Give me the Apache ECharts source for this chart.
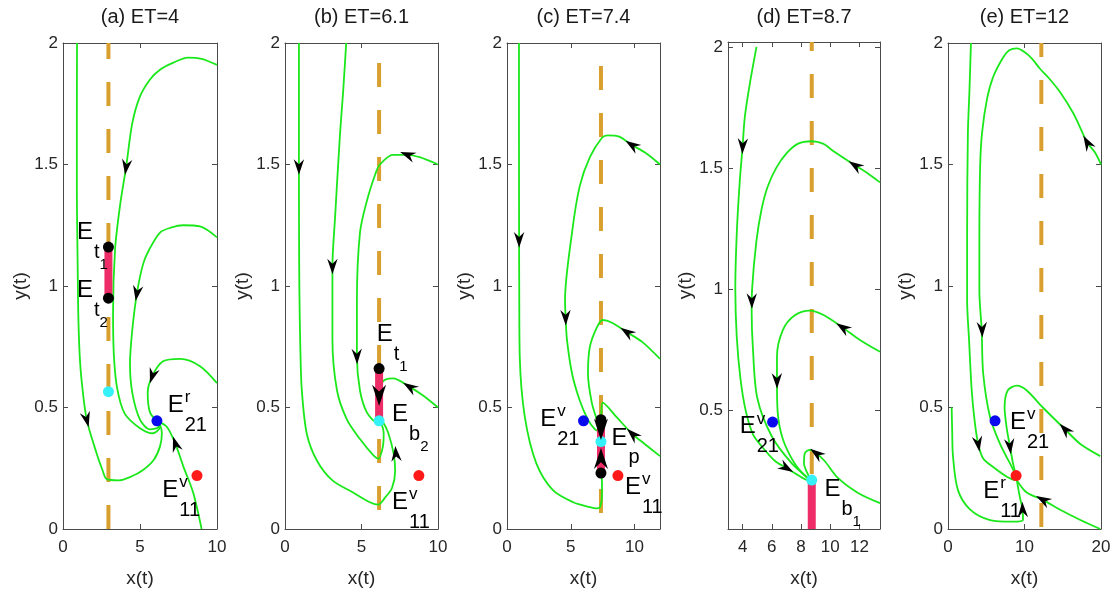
<!DOCTYPE html>
<html><head><meta charset="utf-8">
<script src="https://cdn.jsdelivr.net/npm/echarts@6/dist/echarts.min.js"></script>
<style>html,body{margin:0;padding:0;background:#fff}#c{width:1118px;height:599px}</style>
</head><body><div id="c"></div>
<script>
// ---------------- data ----------------
const panelTitles = ['(a) ET=4', '(b) ET=6.1', '(c) ET=7.4', '(d) ET=8.7', '(e) ET=12'];
const etValues = [2.95, 6.15, 7.37, 8.73, 12.2];
const xMin = [0, 0, 0, 3, 0];
const xMax = [10, 10, 12, 13.4, 20];
const yMin = [0, 0, 0, 0.008, 0];
const yMax = [2, 2, 2, 2.02, 2];
const xTicks = [[0,5,10],[0,5,10],[0,5,10],[4,6,8,10,12],[0,10,20]];
const yTicks = [[0,0.5,1,1.5,2],[0,0.5,1,1.5,2],[0,0.5,1,1.5,2],[0.5,1,1.5,2],[0,0.5,1,1.5,2]];

// trajectories (listed in flow direction)
const trajA = [
  [[0.91,2.0],[0.9,1.7],[0.9,1.4],[0.95,1.1],[0.99,0.89],[1.08,0.72],[1.21,0.61],[1.54,0.45],[2.19,0.31],[2.55,0.245],[2.84,0.205],[3.6,0.2],[4.4,0.215],[5.2,0.243],[5.9,0.285],[6.3,0.34],[6.42,0.394],[6.3,0.43],[6.1,0.445]],
  [[10,1.91],[9.0,1.935],[8.1,1.94],[7.2,1.92],[6.3,1.89],[5.65,1.85],[5.0,1.78],[4.5,1.67],[4.1,1.49],[3.7,1.33],[3.38,1.15],[3.25,0.89],[3.3,0.72],[3.5,0.585],[4.0,0.476],[5.0,0.415],[5.85,0.394],[6.3,0.42],[6.1,0.445]],
  [[10,1.2],[8.9,1.245],[7.8,1.25],[7.0,1.24],[6.3,1.22],[5.6,1.15],[5.2,1.09],[4.8,0.97],[4.5,0.82],[4.35,0.68],[4.5,0.56],[5.0,0.45],[5.65,0.41],[6.2,0.42],[6.1,0.445]],
  [[10,0.6],[8.9,0.67],[7.6,0.7],[6.5,0.69],[5.8,0.63],[5.5,0.56],[5.65,0.48],[6.1,0.445]],
  [[9.0,0.0],[8.45,0.15],[7.8,0.26],[7.3,0.35],[6.75,0.42],[6.1,0.445]]
];
const trajB = [
  [[0.91,2.0],[0.91,1.7],[0.91,1.49],[0.92,1.2],[0.94,0.98],[1.0,0.75],[1.1,0.57],[1.43,0.39],[2.1,0.28],[3.1,0.2],[4.45,0.15],[5.55,0.11],[6.1,0.1],[6.55,0.13],[7.0,0.17],[7.2,0.24],[7.1,0.31],[6.75,0.395],[6.4,0.44],[6.15,0.455]],
  [[4.0,2.0],[3.8,1.8],[3.6,1.63],[3.27,1.28],[3.1,1.08],[3.1,0.94],[3.1,0.78],[3.4,0.57],[4.05,0.45],[4.9,0.37],[5.75,0.305],[6.1,0.29],[6.4,0.34],[6.45,0.395],[6.15,0.455]],
  [[10,1.5],[8.8,1.53],[8.0,1.54],[7.05,1.54],[6.2,1.5],[5.9,1.46],[5.35,1.35],[4.9,1.22],[4.7,0.94],[4.7,0.78],[4.7,0.71],[4.9,0.57],[5.35,0.48],[6.0,0.44],[6.15,0.455]],
  [[10,0.5],[9.0,0.55],[8.15,0.585],[7.05,0.62],[6.55,0.615],[6.3,0.6]]
];
const trajC = [
  [[0.94,2.0],[0.94,1.6],[0.95,1.19],[0.96,0.98],[1.0,0.71],[1.4,0.46],[2.3,0.27],[3.6,0.16],[5.2,0.11],[6.5,0.09],[7.05,0.085],[7.3,0.09],[7.45,0.14],[7.45,0.19],[7.37,0.23]],
  [[12,1.5],[10.8,1.55],[9.8,1.58],[8.8,1.615],[7.9,1.62],[7.45,1.61],[6.5,1.53],[5.7,1.41],[5.1,1.22],[4.55,0.94],[4.6,0.87],[4.7,0.78],[5.1,0.64],[5.7,0.53],[6.35,0.45],[6.9,0.41],[7.3,0.4]],
  [[12,0.7],[10.6,0.77],[9.4,0.81],[8.2,0.85],[7.5,0.86],[7.05,0.83],[6.5,0.75],[6.35,0.64],[6.65,0.52],[7.05,0.45],[7.3,0.42]],
  [[12,0.3],[10.8,0.35],[9.85,0.39],[8.6,0.46],[7.5,0.52],[7.4,0.48],[7.37,0.42]]
];
const trajD = [
  [[4.95,2.0],[4.5,1.85],[4.15,1.71],[4.0,1.59],[3.8,1.44],[3.6,1.23],[3.5,1.0],[3.6,0.8],[3.85,0.63],[4.2,0.5],[4.7,0.4],[5.3,0.35],[6.2,0.29],[7.0,0.26],[7.8,0.23],[8.45,0.21],[8.73,0.21]],
  [[13.4,1.44],[12.5,1.48],[11.7,1.51],[10.2,1.57],[9.5,1.6],[8.73,1.61],[7.8,1.6],[7.0,1.56],[6.3,1.5],[5.7,1.42],[5.3,1.33],[4.95,1.2],[4.65,1.0],[4.62,0.9],[4.7,0.76],[5.0,0.55],[6.0,0.39],[7.35,0.28],[8.45,0.22],[8.73,0.21]],
  [[13.4,0.74],[12.0,0.79],[10.85,0.84],[9.6,0.89],[8.6,0.91],[7.55,0.89],[6.75,0.83],[6.35,0.72],[6.35,0.62],[6.4,0.49],[6.75,0.38],[7.55,0.28],[8.4,0.22],[8.73,0.21]],
  [[13.4,0.115],[11.9,0.157],[10.5,0.22],[9.6,0.29],[9.05,0.32],[8.6,0.335],[8.25,0.32],[8.2,0.28],[8.5,0.23],[8.73,0.21]]
];
const trajE = [
  [[3.0,2.0],[2.8,1.8],[2.6,1.63],[2.5,1.22],[2.5,0.94],[2.75,0.78],[3.1,0.57],[3.5,0.44],[3.95,0.35],[4.6,0.29],[5.9,0.255],[7.7,0.215],[8.8,0.2]],
  [[20,1.5],[19.2,1.55],[18.2,1.59],[17.3,1.65],[16.4,1.71],[14.6,1.8],[13.2,1.855],[12,1.895],[11,1.935],[10,1.963],[9.0,1.978],[8.0,1.97],[7.2,1.94],[5.9,1.86],[5.1,1.77],[4.45,1.63],[4.2,1.49],[4.1,1.2],[4.1,0.98],[4.4,0.82],[4.6,0.64],[5.5,0.46],[6.8,0.35],[8.1,0.27],[8.75,0.23]],
  [[19.9,0.3],[17.3,0.35],[15.3,0.41],[12.4,0.5],[10.3,0.57],[9.0,0.59],[7.8,0.57],[7.4,0.5],[7.7,0.41],[8.1,0.34],[8.5,0.27],[8.9,0.22]],
  [[19.9,0.0],[17.3,0.037],[14.6,0.08],[12.4,0.12],[10.3,0.15],[9.0,0.2]],
  [[0.48,0.5],[0.55,0.4],[0.65,0.3],[1.3,0.16],[2.9,0.08],[5.5,0.037],[8.5,0.03],[9.8,0.037],[9.75,0.08],[9.4,0.13],[9.0,0.2]]
];

// arrowheads: [x, y, xToward, yToward]
const arrowsA = [[1.54,0.45,1.7,0.41],[4.1,1.49,3.97,1.43],[4.8,0.97,4.62,0.9],[5.8,0.63,5.6,0.59],[7.3,0.35,7.0,0.41]];
const arrowsB = [[0.91,1.49,0.91,1.44],[3.1,1.08,3.1,1.03],[8.0,1.54,7.8,1.545],[4.7,0.71,4.72,0.66],[8.15,0.585,7.9,0.595],[7.25,0.31,7.2,0.35]];
const arrowsC = [[0.95,1.19,0.95,1.14],[9.8,1.58,9.6,1.587],[4.6,0.87,4.62,0.82],[9.4,0.81,9.2,0.817],[9.85,0.39,9.65,0.4]];
const arrowsD = [[4.0,1.59,3.97,1.54],[7.0,0.26,7.2,0.253],[11.7,1.51,11.5,1.518],[4.63,0.95,4.64,0.9],[10.85,0.84,10.65,0.848],[6.35,0.62,6.36,0.57],[9.05,0.32,8.85,0.329]];
const arrowsE = [[18.2,1.59,18.0,1.601],[4.45,0.82,4.5,0.77],[3.95,0.35,4.05,0.33],[15.3,0.41,15.0,0.42],[8.1,0.34,8.2,0.31],[12.4,0.12,12.0,0.127],[9.75,0.08,9.7,0.12]];
const bigArrowsB = [[6.15,0.55,6.15,0.5]];
const bigArrowsC = [[7.37,0.41,7.37,0.37],[7.37,0.29,7.37,0.33]];

// equilibria: [x, y, kind]
const eqA = [[2.95,1.16,'threshold'],[2.95,0.95,'threshold'],[2.95,0.565,'boundary'],[6.1,0.445,'E21'],[8.7,0.22,'E11']];
const eqB = [[6.15,0.66,'threshold'],[6.15,0.445,'boundary'],[8.75,0.22,'E11']];
const eqC = [[7.37,0.45,'threshold'],[7.37,0.23,'threshold'],[7.37,0.36,'boundary'],[6.0,0.445,'E21'],[8.7,0.22,'E11']];
const eqD = [[8.73,0.21,'boundary'],[6.05,0.45,'E21']];
const eqE = [[6.15,0.445,'E21'],[8.9,0.22,'E11']];

// sliding segments: [x, yLow, yHigh]
const segA = [[2.95,0.95,1.16]];
const segB = [[6.15,0.445,0.66]];
const segC = [[7.37,0.23,0.45]];
const segD = [[8.73,0.008,0.21]];
const segE = [];

// labels: [x, y, base, sup, sub, subsub]
const labA = [[0.91,1.22,'E','','t','1'],[0.91,0.98,'E','','t','2'],[6.8,0.51,'E','r','21',''],[6.45,0.16,'E','v','11','']];
const labB = [[6.0,0.8,'E','','t','1'],[7.0,0.47,'E','','b','2'],[7.0,0.11,'E','v','11','']];
const labC = [[2.6,0.45,'E','v','21',''],[8.2,0.375,'E','','p',''],[9.25,0.17,'E','v','11','']];
const labD = [[3.8,0.43,'E','v','21',''],[9.6,0.17,'E','','b','1']];
const labE = [[8.1,0.44,'E','v','21',''],[4.6,0.156,'E','r','11','']];

// ---------------- layout / style ----------------
const FONT = '"Liberation Sans", Arial, Helvetica, sans-serif';
const gridLeft = [63, 285, 507, 728, 948];
const gridWidth = [154, 153, 153, 152, 153];
const gridTop = [43, 43, 43, 42, 43];
const dashOffset = [8, 27, 24, 15, 10];
const kindColor = {threshold:'#000000', boundary:'#35F2F8', E21:'#0A0AEE', E11:'#FF1A1A'};
const GREEN = '#1AE81A', DASH = '#D9A030', PINK = '#EE2C68', AX = '#4a4a4a', TXT = '#262626';

const panels = [
  {traj:trajA, arrows:arrowsA, big:[], eq:eqA, seg:segA, lab:labA},
  {traj:trajB, arrows:arrowsB, big:bigArrowsB, eq:eqB, seg:segB, lab:labB},
  {traj:trajC, arrows:arrowsC, big:bigArrowsC, eq:eqC, seg:segC, lab:labC},
  {traj:trajD, arrows:arrowsD, big:[], eq:eqD, seg:segD, lab:labD},
  {traj:trajE, arrows:arrowsE, big:[], eq:eqE, seg:segE, lab:labE}
];

const mctx = document.createElement('canvas').getContext('2d');
function textW(t, fs){ mctx.font = fs + 'px ' + FONT; return mctx.measureText(t).width; }

function arrowRender(scale){
  return function(params, api){
    const p = api.coord([api.value(0), api.value(1)]);
    const q = api.coord([api.value(2), api.value(3)]);
    const a = Math.atan2(q[1]-p[1], q[0]-p[0]);
    const c = Math.cos(a), s = Math.sin(a);
    const L = 7.8*scale, W = 5.2*scale, N = 2.8*scale;
    const local = [[L,0],[-L,-W],[-N,0],[-L,W]];
    const pts = local.map(function(v){ return [p[0]+v[0]*c-v[1]*s, p[1]+v[0]*s+v[1]*c]; });
    return {type:'polygon', shape:{points:pts}, style:{fill:'#000'}};
  };
}
function labelRender(labs){
  return function(params, api){
    const d = labs[params.dataIndex];
    const p = api.coord([d[0], d[1]]);
    const fsE = 24, fsSup = 17, fsSub = 20, fsSS = 15;
    const lx = p[0], cy = p[1];
    const ex = lx + textW(d[2], fsE) + 1;
    const kids = [{type:'text', x:lx, y:cy, style:{text:d[2], fontSize:fsE, fontFamily:FONT, fill:'#000', align:'left', verticalAlign:'middle'}}];
    if (d[3]) kids.push({type:'text', x:ex, y:cy-8, style:{text:d[3], fontSize:fsSup, fontFamily:FONT, fill:'#000', align:'left', verticalAlign:'middle'}});
    if (d[4]) kids.push({type:'text', x:ex, y:cy+20, style:{text:d[4], fontSize:fsSub, fontFamily:FONT, fill:'#000', align:'left', verticalAlign:'middle'}});
    if (d[5]) kids.push({type:'text', x:ex + textW(d[4], fsSub), y:cy+32, style:{text:d[5], fontSize:fsSS, fontFamily:FONT, fill:'#000', align:'left', verticalAlign:'middle'}});
    return {type:'group', children:kids};
  };
}

const grids = [], xAxes = [], yAxes = [], titles = [], series = [];
panels.forEach(function(P, i){
  grids.push({left:gridLeft[i], width:gridWidth[i], top:gridTop[i], bottom:70, containLabel:false});
  titles.push({text:panelTitles[i], left:gridLeft[i]+gridWidth[i]/2, top:7, padding:0, textAlign:'center',
    textStyle:{fontSize:20, fontWeight:'normal', color:'#1a1a1a', fontFamily:FONT}});
  const common = {type:'value', gridIndex:i, splitLine:{show:false},
    axisLine:{show:true, onZero:false, lineStyle:{color:AX, width:1}}};
  xAxes.push(Object.assign({}, common, {position:'bottom', min:xMin[i], max:xMax[i],
    name:'x(t)', nameLocation:'middle', nameGap:40, nameTextStyle:{fontSize:19, color:TXT, fontFamily:FONT},
    axisTick:{inside:true, length:5, customValues:xTicks[i], lineStyle:{color:AX}},
    axisLabel:{customValues:xTicks[i], fontSize:17, color:TXT, fontFamily:FONT, margin:10}}));
  xAxes.push(Object.assign({}, common, {position:'top', min:xMin[i], max:xMax[i],
    axisTick:{inside:true, length:5, customValues:xTicks[i], lineStyle:{color:AX}}, axisLabel:{show:false}}));
  yAxes.push(Object.assign({}, common, {position:'left', min:yMin[i], max:yMax[i],
    name:'y(t)', nameLocation:'middle', nameGap:31, nameTextStyle:{fontSize:19, color:TXT, fontFamily:FONT},
    axisTick:{inside:true, length:5, customValues:yTicks[i], lineStyle:{color:AX}},
    axisLabel:{customValues:yTicks[i], fontSize:17, color:TXT, fontFamily:FONT, margin:5}}));
  yAxes.push(Object.assign({}, common, {position:'right', min:yMin[i], max:yMax[i],
    axisTick:{inside:true, length:5, customValues:yTicks[i], lineStyle:{color:AX}}, axisLabel:{show:false}}));

  const ax = {xAxisIndex:2*i, yAxisIndex:2*i};
  series.push(Object.assign({type:'line', data:[[etValues[i], yMax[i]],[etValues[i], yMin[i]]], showSymbol:false, silent:true, z:1,
    lineStyle:{color:DASH, width:4, type:[24,23], dashOffset:dashOffset[i]}}, ax));
  P.traj.forEach(function(t){
    series.push(Object.assign({type:'line', data:t, showSymbol:false, smooth:0.3, silent:true, z:2,
      lineStyle:{color:GREEN, width:1.8}}, ax));
  });
  P.seg.forEach(function(s){
    series.push(Object.assign({type:'line', data:[[s[0], s[1]],[s[0], s[2]]], showSymbol:false, silent:true, z:3,
      lineStyle:{color:PINK, width:8, cap:'butt'}}, ax));
  });
  series.push(Object.assign({type:'scatter', data:P.eq.map(function(e){ return {value:[e[0], e[1]], itemStyle:{color:kindColor[e[2]], opacity:1}}; }),
    symbolSize:11, silent:true, z:4, itemStyle:{opacity:1}}, ax));
  series.push(Object.assign({type:'custom', data:P.arrows, renderItem:arrowRender(1), silent:true, z:5}, ax));
  if (P.big.length) series.push(Object.assign({type:'custom', data:P.big, renderItem:arrowRender(1.35), silent:true, z:6}, ax));
  series.push(Object.assign({type:'custom', data:P.lab.map(function(l){ return [l[0], l[1]]; }), renderItem:labelRender(P.lab), silent:true, z:7, clip:false}, ax));
});

const chart = echarts.init(document.getElementById('c'), null, {renderer:'canvas'});
chart.setOption({animation:false, backgroundColor:'#fff', title:titles, grid:grids, xAxis:xAxes, yAxis:yAxes, series:series});
</script></body></html>
